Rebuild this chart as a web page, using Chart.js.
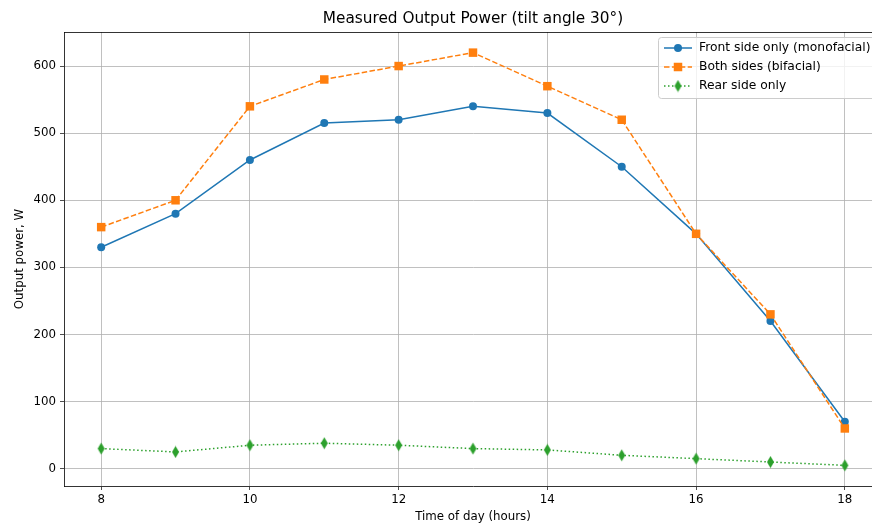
<!DOCTYPE html>
<html>
<head>
<meta charset="utf-8">
<script src="https://cdn.jsdelivr.net/npm/chart.js@4"></script>
<style>
	html, body { margin: 0; padding: 0; background: #fff; overflow: hidden; }
	#wrap { width: 872px; height: 524px; overflow: hidden; }
</style>
</head>
<body>
<div id="wrap"><canvas id="power" width="890" height="524"></canvas></div>
<script>
const hours = [8, 9, 10, 11, 12, 13, 14, 15, 16, 17, 18];
const frontPower = [330, 380, 460, 515, 520, 540, 530, 450, 350, 220, 70];
const bothPower = [360, 400, 540, 580, 600, 620, 570, 520, 350, 230, 60];
const rearPower = [30, 25, 35, 38, 35, 30, 28, 20, 15, 10, 5];
const xTicks = [8, 10, 12, 14, 16, 18];
const yTicks = [0, 100, 200, 300, 400, 500, 600];
const seriesNames = ['Front side only (monofacial)', 'Both sides (bifacial)', 'Rear side only'];
const chartTitle = 'Measured Output Power (tilt angle 30°)';

const FONT = 'DejaVu Sans';
const BLUE = '#1f77b4', ORANGE = '#ff7f0e', GREEN = '#2ca02c';

// thin diamond like matplotlib 'd'
function diamondImg(color) {
	const c = document.createElement('canvas');
	c.width = 9; c.height = 13;
	const g = c.getContext('2d');
	g.fillStyle = color;
	g.beginPath();
	g.moveTo(4.5, 0.5); g.lineTo(8, 6.5); g.lineTo(4.5, 12.5); g.lineTo(1, 6.5);
	g.closePath(); g.fill();
	return c;
}
const diamond = diamondImg(GREEN);

function pts(vals) {
	return hours.map((h, i) => ({x: h, y: vals[i]}));
}

const decor = {
	id: 'decor',
	afterDraw(chart) {
		const ctx = chart.ctx;
		const a = chart.chartArea;
		ctx.save();
		// top and right spines
		ctx.strokeStyle = '#000';
		ctx.lineWidth = 0.8;
		ctx.beginPath();
		ctx.moveTo(a.left, a.top + 0.5); ctx.lineTo(a.right, a.top + 0.5);
		ctx.moveTo(a.right, a.top); ctx.lineTo(a.right, a.bottom);
		ctx.stroke();
		// title
		ctx.fillStyle = '#000';
		ctx.font = '15.3px "' + FONT + '"';
		ctx.textAlign = 'center';
		ctx.textBaseline = 'middle';
		ctx.fillText(chartTitle, (a.left + a.right) / 2, 19);
		// legend
		const bx = 658, by = 37, bw = 240, bh = 61;
		ctx.fillStyle = 'rgba(255,255,255,0.8)';
		ctx.strokeStyle = '#cccccc';
		ctx.lineWidth = 1;
		ctx.beginPath();
		ctx.roundRect(bx + 0.5, by + 0.5, bw, bh, 3);
		ctx.fill(); ctx.stroke();
		const colors = [BLUE, ORANGE, GREEN];
		const dashes = [[], [5.5, 2.4], [1.5, 2.5]];
		for (let i = 0; i < 3; i++) {
			const y = 48 + i * 19;
			ctx.strokeStyle = colors[i];
			ctx.lineWidth = 1.5;
			ctx.setLineDash(dashes[i]);
			ctx.beginPath();
			ctx.moveTo(664, y); ctx.lineTo(692, y);
			ctx.stroke();
			ctx.setLineDash([]);
			ctx.fillStyle = colors[i];
			if (i === 0) {
				ctx.beginPath(); ctx.arc(678, y, 4, 0, Math.PI * 2); ctx.fill();
			} else if (i === 1) {
				ctx.fillRect(678 - 4.25, y - 4.25, 8.5, 8.5);
			} else {
				ctx.drawImage(diamond, 678 - 4.5, y - 6.5);
			}
			ctx.fillStyle = '#000';
			ctx.font = '12.3px "' + FONT + '"';
			ctx.textAlign = 'left';
			ctx.fillText(seriesNames[i], 699, y);
		}
		ctx.restore();
	}
};

const ctx = document.getElementById('power').getContext('2d');
const chart = new Chart(ctx, {
	type: 'line',
	data: {
		datasets: [
			{
				label: seriesNames[0],
				data: pts(frontPower),
				borderColor: BLUE,
				backgroundColor: BLUE,
				borderWidth: 1.5,
				pointStyle: 'circle',
				pointRadius: 4,
				pointBorderWidth: 0,
				tension: 0,
				order: 3
			},
			{
				label: seriesNames[1],
				data: pts(bothPower),
				borderColor: ORANGE,
				backgroundColor: ORANGE,
				borderWidth: 1.5,
				borderDash: [5.5, 2.4],
				pointStyle: 'rect',
				pointRadius: 6,
				pointBorderWidth: 0,
				tension: 0,
				order: 2
			},
			{
				label: seriesNames[2],
				data: pts(rearPower),
				borderColor: GREEN,
				backgroundColor: GREEN,
				borderWidth: 1.5,
				borderDash: [1.5, 2.5],
				pointStyle: diamond,
				pointRadius: 5,
				tension: 0,
				order: 1
			}
		]
	},
	options: {
		responsive: false,
		animation: false,
		layout: { padding: { left: 0, right: 8, top: 32, bottom: 0 } },
		plugins: {
			legend: { display: false },
			title: { display: false },
			tooltip: { enabled: false }
		},
		scales: {
			x: {
				type: 'linear',
				min: 7.5,
				max: 18.5,
				afterBuildTicks: (s) => { s.ticks = xTicks.map(v => ({value: v})); },
				afterFit: (s) => { s.height = 38; },
				grid: { color: '#b0b0b0', lineWidth: 0.8, tickLength: 4, tickColor: '#222' },
				border: { color: '#000', width: 0.8 },
				ticks: { color: '#000', padding: 3, font: { family: FONT, size: 11.8 }, maxRotation: 0 },
				title: {
					display: true,
					text: 'Time of day (hours)',
					color: '#000',
					font: { family: FONT, size: 11.8 },
					padding: { top: 0.5, bottom: 0 }
				}
			},
			y: {
				min: -25.75,
				max: 650.75,
				afterBuildTicks: (s) => { s.ticks = yTicks.map(v => ({value: v})); },
				afterFit: (s) => { s.width = 64; },
				grid: { color: '#b0b0b0', lineWidth: 0.8, tickLength: 4, tickColor: '#222' },
				border: { color: '#000', width: 0.8 },
				ticks: { color: '#000', padding: 4, font: { family: FONT, size: 11.8 } },
				title: {
					display: true,
					text: 'Output power, W',
					color: '#000',
					font: { family: FONT, size: 11.8 },
					padding: { top: 13, bottom: 0 }
				}
			}
		}
	},
	plugins: [decor]
});
</script>
</body>
</html>
